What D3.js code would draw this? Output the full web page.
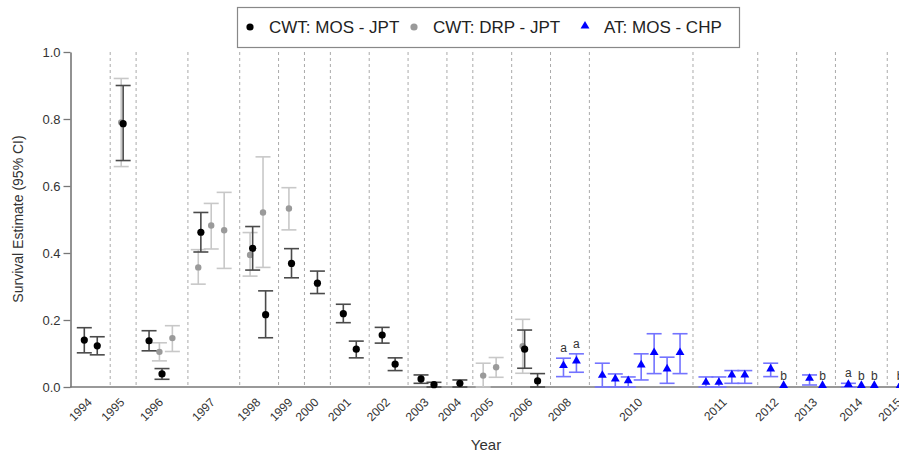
<!DOCTYPE html>
<html>
<head>
<meta charset="utf-8">
<script src="https://cdn.jsdelivr.net/npm/d3@7"></script>
<style>
  body { margin: 0; background: #fff; }
  svg { font-family: "Liberation Sans", Arial, sans-serif; }
</style>
</head>
<body>
<svg id="chart" width="899" height="454"></svg>
<script>
// x positions are slot indices along the axis
const mosJpt = [
  {pos: 0, est: 0.140, lo: 0.102, hi: 0.177},
  {pos: 1, est: 0.123, lo: 0.096, hi: 0.150},
  {pos: 3, est: 0.786, lo: 0.676, hi: 0.900},
  {pos: 5, est: 0.138, lo: 0.108, hi: 0.168},
  {pos: 6, est: 0.039, lo: 0.023, hi: 0.055},
  {pos: 9, est: 0.462, lo: 0.403, hi: 0.521},
  {pos: 13, est: 0.414, lo: 0.349, hi: 0.479},
  {pos: 14, est: 0.216, lo: 0.147, hi: 0.287},
  {pos: 16, est: 0.369, lo: 0.326, hi: 0.413},
  {pos: 18, est: 0.310, lo: 0.279, hi: 0.346},
  {pos: 20, est: 0.219, lo: 0.192, hi: 0.247},
  {pos: 21, est: 0.113, lo: 0.087, hi: 0.137},
  {pos: 23, est: 0.155, lo: 0.131, hi: 0.178},
  {pos: 24, est: 0.068, lo: 0.049, hi: 0.087},
  {pos: 26, est: 0.024, lo: 0.011, hi: 0.036},
  {pos: 27, est: 0.007, lo: 0.000, hi: 0.014},
  {pos: 29, est: 0.011, lo: 0.000, hi: 0.021},
  {pos: 34, est: 0.113, lo: 0.056, hi: 0.170},
  {pos: 35, est: 0.018, lo: 0.000, hi: 0.040}
];

const drpJpt = [
  {pos: 2.85, est: 0.790, lo: 0.658, hi: 0.921},
  {pos: 5.8, est: 0.105, lo: 0.078, hi: 0.132},
  {pos: 6.8, est: 0.146, lo: 0.106, hi: 0.183},
  {pos: 8.8, est: 0.357, lo: 0.307, hi: 0.410},
  {pos: 9.8, est: 0.482, lo: 0.412, hi: 0.548},
  {pos: 10.8, est: 0.468, lo: 0.354, hi: 0.581},
  {pos: 12.8, est: 0.394, lo: 0.331, hi: 0.461},
  {pos: 13.8, est: 0.521, lo: 0.357, hi: 0.687},
  {pos: 15.8, est: 0.533, lo: 0.469, hi: 0.595},
  {pos: 30.8, est: 0.034, lo: 0.000, hi: 0.071},
  {pos: 31.8, est: 0.059, lo: 0.029, hi: 0.088},
  {pos: 33.85, est: 0.122, lo: 0.041, hi: 0.202}
];

const mosChp = [
  {pos: 37, est: 0.061, lo: 0.031, hi: 0.086},
  {pos: 38, est: 0.075, lo: 0.044, hi: 0.099},
  {pos: 40, est: 0.032, lo: 0.000, hi: 0.071},
  {pos: 41, est: 0.021, lo: 0.000, hi: 0.039},
  {pos: 42, est: 0.016, lo: 0.000, hi: 0.030},
  {pos: 43, est: 0.063, lo: 0.021, hi: 0.099},
  {pos: 44, est: 0.100, lo: 0.040, hi: 0.159},
  {pos: 45, est: 0.051, lo: 0.011, hi: 0.089},
  {pos: 46, est: 0.100, lo: 0.040, hi: 0.159},
  {pos: 48, est: 0.011, lo: 0.000, hi: 0.030},
  {pos: 49, est: 0.011, lo: 0.000, hi: 0.030},
  {pos: 50, est: 0.033, lo: 0.011, hi: 0.049},
  {pos: 51, est: 0.033, lo: 0.011, hi: 0.049},
  {pos: 53, est: 0.051, lo: 0.031, hi: 0.071},
  {pos: 54, est: 0.002, lo: null, hi: null},
  {pos: 56, est: 0.023, lo: 0.006, hi: 0.036},
  {pos: 57, est: 0.002, lo: null, hi: null},
  {pos: 59, est: 0.005, lo: 0.000, hi: 0.011},
  {pos: 60, est: 0.002, lo: null, hi: null},
  {pos: 61, est: 0.002, lo: null, hi: null},
  {pos: 63, est: 0.002, lo: null, hi: null}
];

const letters = [
  {pos: 37, text: 'a'}, {pos: 38, text: 'a'}, {pos: 54, text: 'b'}, {pos: 57, text: 'b'},
  {pos: 59, text: 'a'}, {pos: 60, text: 'b'}, {pos: 61, text: 'b'}, {pos: 63, text: 'b'}
];

const yearLabels = ['1994', '1995', '1996', '1997', '1998', '1999', '2000', '2001', '2002', '2003',
  '2004', '2005', '2006', '2008', '2010', '2011', '2012', '2013', '2014', '2015'];
const yearCenters = [0.5, 3, 6, 10, 13.5, 16, 18, 20.5, 23.5, 26.5, 29, 31.5, 34.5, 37.5, 43, 49.5, 53.5, 56.5, 60, 63];
const separators = [2, 4, 8, 12, 15, 17, 19, 22, 25, 28, 30, 33, 36, 39, 47, 52, 55, 58, 62];
const yTicks = [0, 0.2, 0.4, 0.6, 0.8, 1.0];

const svg = d3.select('#chart');
const xScale = d3.scaleLinear().domain([0, 61]).range([84.3, 874.3]);
const yScale = d3.scaleLinear().domain([0, 1]).range([387, 52]);
const capHalf = 7.5;

// dashed year separators
svg.append('g').selectAll('line').data(separators).enter().append('line')
  .attr('x1', d => xScale(d)).attr('x2', d => xScale(d))
  .attr('y1', yScale(1)).attr('y2', yScale(0))
  .attr('stroke', '#aaa').attr('stroke-dasharray', '3,3').attr('stroke-width', 1);

// axes
const yAxis = d3.axisLeft(yScale).tickValues(yTicks).tickFormat(d3.format('.1f')).tickSize(7).tickSizeOuter(0);
const yAxisGroup = svg.append('g').attr('transform', 'translate(70.5, 0)').call(yAxis);
yAxisGroup.select('.domain').attr('stroke', '#777').attr('stroke-width', 1.6);
yAxisGroup.selectAll('.tick line').attr('stroke', '#777').attr('stroke-width', 1.3);
yAxisGroup.selectAll('.tick text').attr('font-size', 13).attr('fill', '#333')
  .attr('font-family', '"Liberation Sans", Arial, sans-serif').attr('x', -10);

svg.append('line').attr('x1', 70).attr('x2', 899).attr('y1', yScale(0)).attr('y2', yScale(0))
  .attr('stroke', '#777').attr('stroke-width', 1.6);

svg.append('g').selectAll('text').data(yearLabels).enter().append('text')
  .attr('transform', (d, i) => `translate(${xScale(yearCenters[i]) + 2}, 403) rotate(-45)`)
  .attr('text-anchor', 'end').attr('font-size', 12).attr('fill', '#333')
  .text(d => d);

svg.append('text').attr('x', 486).attr('y', 450).attr('text-anchor', 'middle')
  .attr('font-size', 15).attr('fill', '#333').text('Year');
svg.append('text').attr('transform', 'translate(23, 219) rotate(-90)').attr('text-anchor', 'middle')
  .attr('font-size', 14).attr('fill', '#333').text('Survival Estimate (95% CI)');

function drawBars(data, color, width) {
  const g = svg.append('g').attr('stroke', color).attr('stroke-width', width).attr('fill', 'none');
  const withCi = data.filter(d => d.lo !== null);
  g.selectAll('.v').data(withCi).enter().append('line')
    .attr('x1', d => xScale(d.pos)).attr('x2', d => xScale(d.pos))
    .attr('y1', d => yScale(d.lo)).attr('y2', d => yScale(d.hi));
  g.selectAll('.hi').data(withCi).enter().append('line')
    .attr('x1', d => xScale(d.pos) - capHalf).attr('x2', d => xScale(d.pos) + capHalf)
    .attr('y1', d => yScale(d.hi)).attr('y2', d => yScale(d.hi));
  g.selectAll('.lo').data(withCi).enter().append('line')
    .attr('x1', d => xScale(d.pos) - capHalf).attr('x2', d => xScale(d.pos) + capHalf)
    .attr('y1', d => yScale(d.lo)).attr('y2', d => yScale(d.lo));
}

drawBars(drpJpt, '#c8c8c8', 1.6);
svg.append('g').selectAll('circle').data(drpJpt).enter().append('circle')
  .attr('cx', d => xScale(d.pos)).attr('cy', d => yScale(d.est)).attr('r', 3.2).attr('fill', '#9a9a9a');

drawBars(mosJpt, '#4a4a4a', 1.6);
svg.append('g').selectAll('circle').data(mosJpt).enter().append('circle')
  .attr('cx', d => xScale(d.pos)).attr('cy', d => yScale(d.est)).attr('r', 3.6).attr('fill', '#000');

drawBars(mosChp, '#7373ff', 1.6);
const tri = d3.symbol().type(d3.symbolTriangle).size(34);
svg.append('g').selectAll('path').data(mosChp).enter().append('path')
  .attr('transform', d => `translate(${xScale(d.pos)}, ${yScale(d.est) - 1})`)
  .attr('d', tri).attr('fill', '#0000ff');

svg.append('g').selectAll('text').data(letters).enter().append('text')
  .attr('x', d => xScale(d.pos))
  .attr('y', d => {
    const p = mosChp.find(c => c.pos === d.pos);
    const top = p.hi !== null ? p.hi : p.est;
    return yScale(top) - 6;
  })
  .attr('text-anchor', 'middle').attr('font-size', 12).attr('fill', '#333').text(d => d.text);

// legend
const legend = svg.append('g');
legend.append('rect').attr('x', 237.5).attr('y', 7.5).attr('width', 502).attr('height', 40)
  .attr('fill', '#fff').attr('stroke', '#888').attr('stroke-width', 1.2);
const legendItems = [
  {label: 'CWT: MOS - JPT', x: 250, color: '#000', shape: 'circle'},
  {label: 'CWT: DRP - JPT', x: 414, color: '#9a9a9a', shape: 'circle'},
  {label: 'AT: MOS - CHP', x: 585, color: '#0000ff', shape: 'triangle'}
];
legendItems.forEach(item => {
  if (item.shape === 'circle') {
    legend.append('circle').attr('cx', item.x).attr('cy', 27).attr('r', 3.6).attr('fill', item.color);
  } else {
    legend.append('path').attr('transform', `translate(${item.x}, 26)`).attr('d', tri).attr('fill', item.color);
  }
  legend.append('text').attr('x', item.x + 19).attr('y', 33).attr('font-size', 17).attr('fill', '#222')
    .text(item.label);
});
</script>
</body>
</html>
